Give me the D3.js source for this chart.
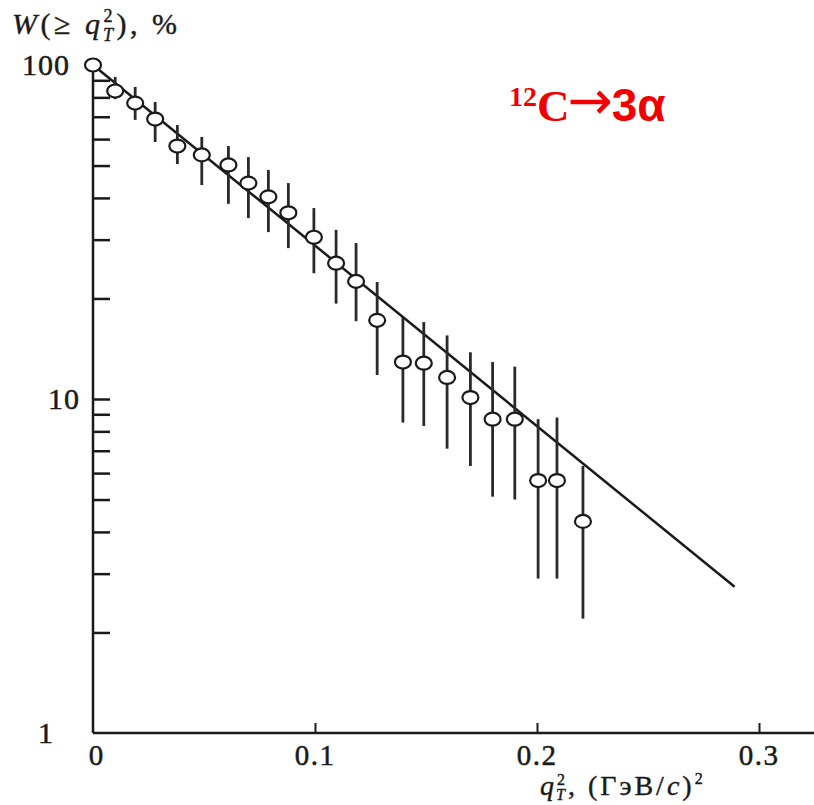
<!DOCTYPE html>
<html>
<head>
<meta charset="utf-8">
<script src="https://cdn.jsdelivr.net/npm/d3@7"></script>
<style>
  html, body { margin: 0; padding: 0; background: #fff; }
  svg { display: block; }
</style>
</head>
<body>
<svg id="chart" width="814" height="805"></svg>
<script>
// ---- data ----
const qT2     = [0, 0.010, 0.019, 0.028, 0.038, 0.049, 0.061, 0.070, 0.079, 0.088, 0.0995, 0.1095, 0.1185, 0.128, 0.1396, 0.149, 0.1595, 0.170, 0.180, 0.190, 0.2005, 0.209, 0.2207];
const W       = [100, 83.6, 76.9, 68.9, 57.2, 53.8, 50.2, 44.3, 40.3, 36.1, 30.5, 25.5, 22.5, 17.2, 12.9, 12.8, 11.6, 10.1, 8.7, 8.7, 5.7, 5.7, 4.3];
const errHigh = [null, 92.1, 86.0, 77.5, 66.1, 60.9, 57.2, 53.0, 48.5, 44.3, 37.3, 32.1, 29.3, 22.4, 17.5, 17.0, 15.5, 13.8, 12.9, 12.5, 8.7, 8.8, 6.3];
const errLow  = [null, 79.0, 68.5, 58.8, 50.5, 43.7, 38.4, 34.8, 31.6, 28.3, 23.8, 19.3, 17.1, 11.8, 8.5, 8.3, 7.1, 6.3, 5.1, 5.0, 2.9, 2.9, 2.2];
const fitQ    = [0, 0.289];
const fitW    = [100, 2.74];
const xTickValues = [0.1, 0.2, 0.3];
const xTickLabels = ["0", "0.1", "0.2", "0.3"];
const xLabelValues = [0, 0.1, 0.2, 0.3];
const yTickValues = [2, 3, 4, 5, 6, 7, 8, 9, 10, 20, 30, 40, 50, 60, 70, 80, 90];
const yLabelValues = [1, 10, 100];
const yTickLabels = ["1", "10", "100"];

// ---- drawing ----
const svg = d3.select("#chart");
const x = d3.scaleLinear().domain([0, 0.3]).range([93, 759]);
const y = d3.scaleLog().domain([1, 100]).range([733, 65]);
const ink = "#1a1a1a";
const serif = "Liberation Serif, Times New Roman, serif";

// x axis line extending to right edge
svg.append("line")
  .attr("x1", x(0)).attr("x2", 814)
  .attr("y1", y(1)).attr("y2", y(1))
  .attr("stroke", ink).attr("stroke-width", 2.5);

// y axis line
svg.append("line")
  .attr("x1", x(0)).attr("x2", x(0))
  .attr("y1", y(100)).attr("y2", y(1))
  .attr("stroke", ink).attr("stroke-width", 2.5);

// x ticks (pointing up, inside)
const xAxis = d3.axisBottom(x).tickValues(xTickValues).tickSizeInner(-10).tickSizeOuter(0).tickFormat("");
const gx = svg.append("g").attr("transform", `translate(0,${y(1)})`).call(xAxis);
gx.select(".domain").remove();
gx.selectAll(".tick line").attr("stroke", ink).attr("stroke-width", 2);

// y ticks (pointing right, inside)
const yAxis = d3.axisLeft(y).tickValues(yTickValues).tickSizeInner(-17).tickSizeOuter(0).tickFormat("");
const gy = svg.append("g").attr("transform", `translate(${x(0)},0)`).call(yAxis);
gy.select(".domain").remove();
gy.selectAll(".tick line").attr("stroke", ink).attr("stroke-width", 2.5);

// x tick labels
svg.append("g").selectAll("text")
  .data(xLabelValues)
  .join("text")
  .attr("x", d => x(d) + (d === 0 ? 3 : 0))
  .attr("y", 765)
  .attr("text-anchor", "middle")
  .attr("font-family", serif)
  .attr("font-size", 29)
  .attr("letter-spacing", (d, i) => i === 0 ? 0 : 1.5)
  .attr("fill", ink)
  .attr("stroke", ink).attr("stroke-width", 0.5)
  .text((d, i) => xTickLabels[i]);

// y tick labels
const yLabelRight = { 1: 54, 10: 80, 100: 70 };
svg.append("g").selectAll("text")
  .data(yLabelValues)
  .join("text")
  .attr("x", d => yLabelRight[d])
  .attr("y", d => y(d) + 10)
  .attr("text-anchor", "end")
  .attr("font-family", serif)
  .attr("font-size", 30)
  .attr("letter-spacing", 1)
  .attr("fill", ink)
  .attr("stroke", ink).attr("stroke-width", 0.5)
  .text((d, i) => yTickLabels[i]);

// fitted line
svg.append("path")
  .datum(fitQ.map((q, i) => [q, fitW[i]]))
  .attr("d", d3.line().x(d => x(d[0])).y(d => y(d[1])))
  .attr("fill", "none")
  .attr("stroke", ink)
  .attr("stroke-width", 2.5);

const pts = qT2.map((q, i) => ({ q, w: W[i], hi: errHigh[i], lo: errLow[i] }));

// error bars
svg.append("g").selectAll("line")
  .data(pts.filter(d => d.hi !== null))
  .join("line")
  .attr("x1", d => x(d.q)).attr("x2", d => x(d.q))
  .attr("y1", d => y(d.hi)).attr("y2", d => y(d.lo))
  .attr("stroke", "#2a2a2a").attr("stroke-width", 2.8);

// points (open circles)
svg.append("g").selectAll("ellipse")
  .data(pts)
  .join("ellipse")
  .attr("cx", d => x(d.q)).attr("cy", d => y(d.w))
  .attr("rx", 8).attr("ry", 6.5)
  .attr("fill", "#fff")
  .attr("stroke", ink).attr("stroke-width", 2.2);

// y axis title: W(≥ q_T^2), %
const yt = svg.append("text")
  .attr("x", 12).attr("y", 34)
  .attr("font-family", serif)
  .attr("font-size", 30)
  .attr("letter-spacing", 3.5)
  .attr("fill", ink)
  .attr("stroke", ink).attr("stroke-width", 0.4);
yt.append("tspan").attr("font-style", "italic").text("W");
yt.append("tspan").text("(≥ ");
yt.append("tspan").attr("font-style", "italic").text("q");
yt.append("tspan").attr("font-size", 18).attr("dy", -12).text("2");
yt.append("tspan").attr("font-size", 18).attr("font-style", "italic").attr("dx", -13).attr("dy", 19).text("T");
yt.append("tspan").attr("dy", -7).text("), %");

// x axis title: q_T^2, (ГэВ/c)^2
const xt = svg.append("text")
  .attr("x", 540).attr("y", 795)
  .attr("font-family", serif)
  .attr("font-size", 28)
  .attr("letter-spacing", 3)
  .attr("fill", ink)
  .attr("stroke", ink).attr("stroke-width", 0.4);
xt.append("tspan").attr("font-style", "italic").text("q");
xt.append("tspan").attr("font-size", 16).attr("dy", -10).text("2");
xt.append("tspan").attr("font-size", 16).attr("font-style", "italic").attr("dx", -12).attr("dy", 15).text("T");
xt.append("tspan").attr("dy", -5).text(", (ГэВ/");
xt.append("tspan").attr("font-style", "italic").text("c");
xt.append("tspan").text(")");
xt.append("tspan").attr("font-size", 16).attr("dy", -11).text("2");

// red reaction label
const rl = svg.append("text")
  .attr("x", 509).attr("y", 121)
  .attr("fill", "#f00000")
  .attr("font-weight", "bold");
rl.append("tspan").attr("font-family", serif).attr("font-size", 28).attr("dy", -15).text("12");
rl.append("tspan").attr("font-family", serif).attr("font-size", 45).attr("dy", 15).text("C");
rl.append("tspan").attr("font-family", "DejaVu Sans, sans-serif").attr("font-weight", "normal").attr("font-size", 54).attr("dy", -2).attr("dx", -2).text("→");
rl.append("tspan").attr("font-family", "Liberation Sans, Arial, sans-serif").attr("font-size", 46).attr("dy", 2).attr("dx", -1).text("3α");
</script>
</body>
</html>
